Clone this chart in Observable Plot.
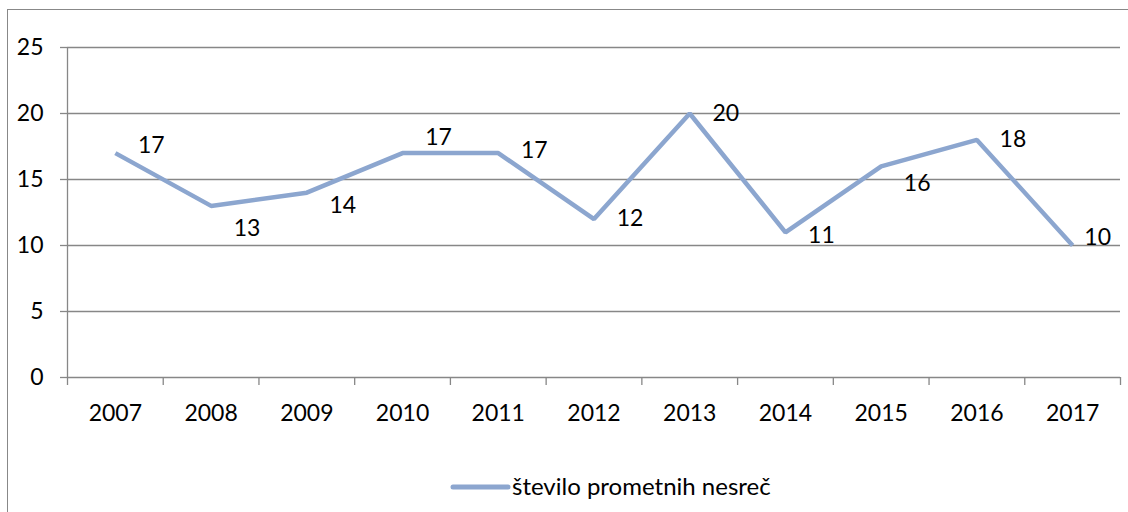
<!DOCTYPE html>
<html>
<head>
<meta charset="utf-8">
<script src="https://cdn.jsdelivr.net/npm/d3@7"></script>
<script src="https://cdn.jsdelivr.net/npm/@observablehq/plot@0.6"></script>
<style>
  html, body { margin: 0; padding: 0; background: #fff; }
  body { width: 1128px; height: 512px; overflow: hidden; position: relative; font-family: Lato, "Open Sans", sans-serif; }
  #frame { position: absolute; left: 7px; top: 9px; right: -10px; bottom: -10px; border-left: 1.5px solid #888; border-top: 1.5px solid #888; }
  #chart { position: absolute; left: 0; top: 0; }
  #legend-line { position: absolute; left: 450px; top: 477px; }
  #legend-text { position: absolute; left: 512px; top: 473.5px; font-size: 24px; line-height: 24px; color: #000; white-space: nowrap; }
</style>
</head>
<body>
<div id="frame"></div>
<div id="chart"></div>
<svg id="legend-line" width="62" height="20"></svg>
<div id="legend-text"></div>
<script>
const years = ["2007", "2008", "2009", "2010", "2011", "2012", "2013", "2014", "2015", "2016", "2017"];
const values = [17, 13, 14, 17, 17, 12, 20, 11, 16, 18, 10];
const yTicks = [0, 5, 10, 15, 20, 25];
const seriesName = "število prometnih nesreč";

const lineColor = "#8CA6CF";
const gridColor = "#878787";
const fs = 23;

const data = years.map((year, i) => ({ i, year, v: values[i] }));

// Label placement (Excel-like "right" position, nudged away from the next segment)
const D = 2.1; // clearance in value units
const labels = data.map((d, k) => {
  let ly = d.v;
  if (k < data.length - 1) {
    const s = (values[k + 1] - d.v) * 0.375;
    if (s > 0) ly = Math.min(d.v, d.v + s - D);
    else if (s < 0) ly = Math.max(d.v, d.v + s + D);
    else ly = d.v + D * 0.55;
  } else {
    ly = d.v + 0.6;
  }
  return { ...d, ly, last: k === data.length - 1 };
});

const bounds = d3.range(-0.5, years.length, 1);

const chart = Plot.plot({
  width: 1128,
  height: 450,
  marginLeft: 67,
  marginRight: 8,
  marginTop: 47,
  marginBottom: 73,
  style: { fontFamily: "Lato, 'Open Sans', sans-serif", fontSize: fs + "px", color: "#000", background: "transparent" },
  x: { domain: [-0.5, years.length - 0.5] },
  y: { domain: [0, 25] },
  marks: [
    Plot.gridY(yTicks.filter(t => t > 0), { stroke: gridColor, strokeOpacity: 1, strokeWidth: 1.3 }),
    Plot.ruleY([0], { stroke: gridColor, strokeWidth: 1.3 }),
    Plot.ruleX([-0.5], { stroke: gridColor, strokeWidth: 1.3 }),
    Plot.axisY({ ticks: yTicks, tickSize: 7, tickPadding: 17, stroke: gridColor, strokeWidth: 1.3, fill: "#000", label: null, fontSize: fs }),
    Plot.axisX({ ticks: bounds, tickSize: 8, tickFormat: () => "", stroke: gridColor, strokeWidth: 1.3, label: null }),
    Plot.axisX({ ticks: d3.range(years.length), tickSize: 0, tickPadding: 27, tickFormat: i => years[i], fill: "#000", label: null, fontSize: fs }),
    Plot.line(data, { x: "i", y: "v", stroke: lineColor, strokeWidth: 4.5, strokeLinecap: "butt", strokeLinejoin: "miter" }),
    Plot.text(labels.filter(d => !d.last), { x: "i", y: "ly", text: d => String(d.v), dx: 36, fill: "#000", fontSize: fs }),
    Plot.text(labels.filter(d => d.last), { x: "i", y: "ly", text: d => String(d.v), dx: 25, fill: "#000", fontSize: fs })
  ]
});
document.getElementById("chart").appendChild(chart);

// Legend
const lsvg = d3.select("#legend-line");
lsvg.append("line")
  .attr("x1", 3).attr("x2", 58).attr("y1", 10).attr("y2", 10)
  .attr("stroke", lineColor).attr("stroke-width", 5).attr("stroke-linecap", "round");
document.getElementById("legend-text").textContent = seriesName;
</script>
</body>
</html>
